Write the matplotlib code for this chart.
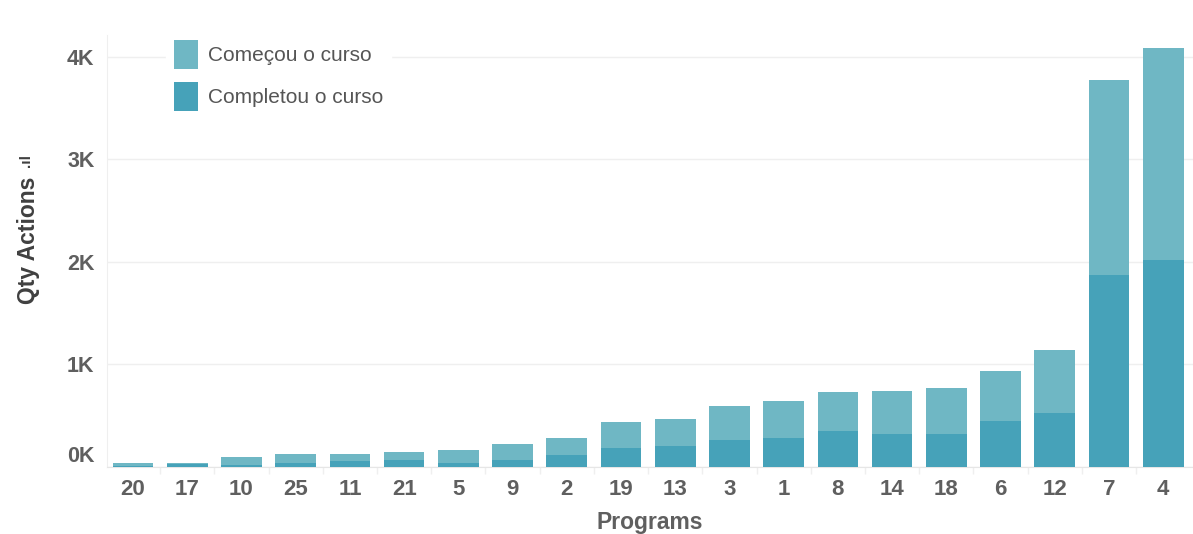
import matplotlib
matplotlib.use('Agg')
import matplotlib.pyplot as plt
from matplotlib.transforms import ScaledTranslation
from matplotlib.patches import Patch
import numpy as np

# Programas ordenados pelo total de ações
programs = ['20', '17', '10', '25', '11', '21', '5', '9', '2', '19',
            '13', '3', '1', '8', '14', '18', '6', '12', '7', '4']
comecou = [35, 35, 92, 121, 121, 146, 163, 221, 277, 436,
           462, 592, 638, 726, 738, 765, 937, 1138, 3770, 4088]
completou = [8, 30, 20, 39, 53, 65, 36, 65, 119, 179,
             205, 263, 277, 351, 319, 319, 449, 520, 1873, 2017]

y_ticks = [0, 1000, 2000, 3000, 4000]
y_labels = ['0K', '1K', '2K', '3K', '4K']

light = '#6FB7C4'
dark = '#46A2B9'
txt = '#5F5F5F'
grid = '#EFEFEF'

plt.rcParams['font.family'] = ['Liberation Sans', 'DejaVu Sans']

fig = plt.figure(figsize=(11.93, 5.34), dpi=100, facecolor='white')
ax = fig.add_axes([0.0897, 0.126, 0.9103, 0.808])

x = np.arange(len(programs))
ax.bar(x, comecou, width=0.75, color=light, zorder=2)
ax.bar(x, completou, width=0.75, color=dark, zorder=3)

ax.set_xlim(-0.48, len(programs) - 0.45)
ax.set_ylim(0, 4210)

ax.set_yticks(y_ticks)
ax.set_yticklabels(y_labels, fontsize=15.5, fontweight='bold', color=txt)
ax.tick_params(axis='y', length=0, pad=9)
# o rótulo 0K fica um pouco acima da linha de base
lbl0 = ax.get_yticklabels()[0]
lbl0.set_transform(lbl0.get_transform() + ScaledTranslation(0, 0.13, fig.dpi_scale_trans))

ax.set_xticks(x)
ax.set_xticklabels(programs, fontsize=16, fontweight='bold', color=txt)
ax.tick_params(axis='x', length=0, pad=9)
ax.set_xticks(x[:-1] + 0.5, minor=True)
ax.tick_params(axis='x', which='minor', length=5, color=grid, width=1)

ax.yaxis.grid(True, color=grid, linewidth=1, zorder=0)
ax.set_axisbelow(True)
for side in ['top', 'right']:
    ax.spines[side].set_visible(False)
ax.spines['left'].set_color(grid)
ax.spines['bottom'].set_color('#E6E6E6')

ax.set_xlabel('Programs', fontsize=16.5, fontweight='bold', color=txt, labelpad=8)
ax.set_ylabel('Qty Actions', fontsize=16.5, fontweight='bold', color='#404040')
ax.yaxis.set_label_coords(-0.062, 0.525)
# pequeno ícone de ordenação acima do título do eixo
fig.text(0.022, 0.70, '.ıl', rotation=90, fontsize=11, fontweight='bold',
         color='#404040', ha='center', va='center')

handles = [Patch(facecolor=light, label='Começou o curso'),
           Patch(facecolor=dark, label='Completou o curso')]
leg = ax.legend(handles=handles, loc='upper left', bbox_to_anchor=(0.045, 1.03),
                frameon=True, fancybox=False, edgecolor='white', facecolor='white',
                framealpha=1, handlelength=1.15, handleheight=1.75, handletextpad=0.5,
                labelspacing=0.65, borderpad=0.35,
                prop={'family': ['Liberation Sans Narrow', 'Liberation Sans'], 'size': 15})
for t in leg.get_texts():
    t.set_color('#555555')

fig.savefig('out.png', dpi=100, facecolor='white')
plt.close(fig)
